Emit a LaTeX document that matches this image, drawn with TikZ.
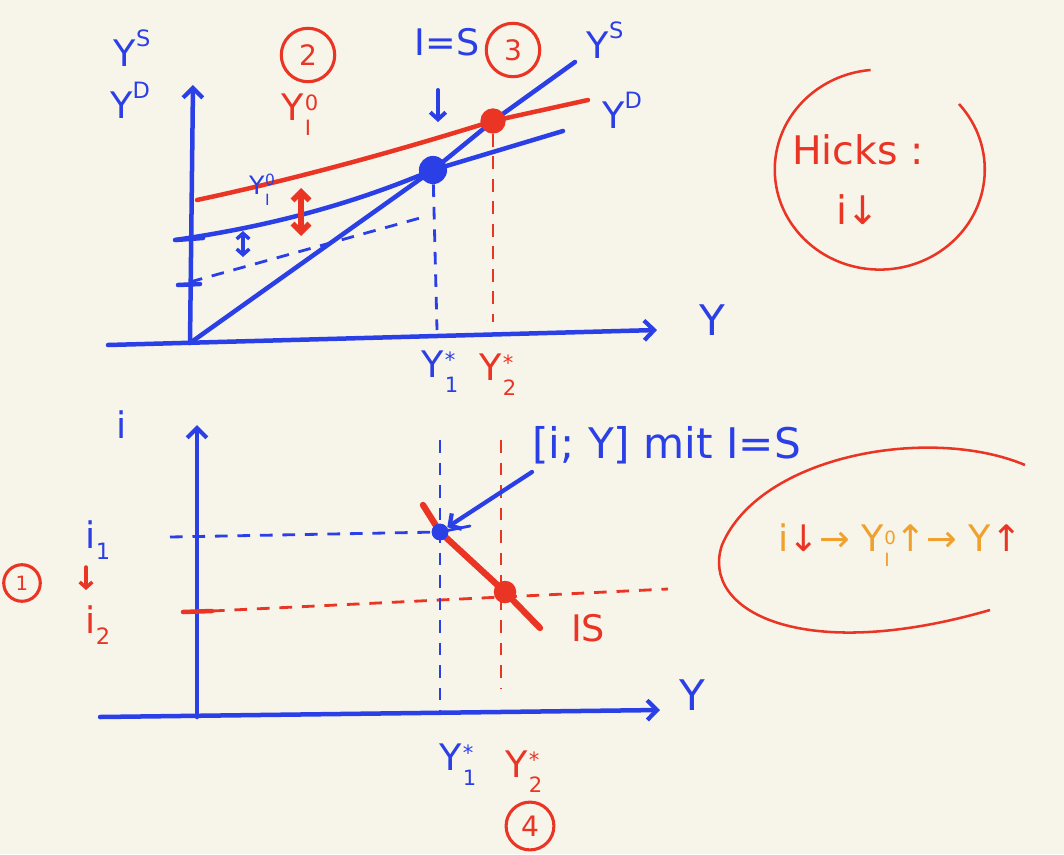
\documentclass[tikz,border=0pt]{standalone}
\usepackage{fontspec}
\setmainfont{DejaVu Sans}
\usetikzlibrary{arrows.meta,calc}
\definecolor{bg}{HTML}{F7F4EA}
\definecolor{pblue}{HTML}{2B3FE6}
\definecolor{pred}{HTML}{EA3424}
\definecolor{porange}{HTML}{F0A02C}
\newcommand\SupSub[3]{#1\raisebox{0.55em}{\fontsize{#3}{#3}\selectfont #2}}
\newcommand\SubOnly[3]{#1\raisebox{-0.3em}{\fontsize{#3}{#3}\selectfont #2}}
\newcommand\SubSup[4]{#1\kern0.5pt\raisebox{-0.42em}{\fontsize{#4}{#4}\selectfont\begin{tabular}[b]{@{}l@{}}#2\\[2.5pt]#3\end{tabular}}}
\begin{document}
\begin{tikzpicture}[x=0.025cm,y=-0.025cm,
  bl/.style={pblue,line width=3.2pt,line cap=round},
  rd/.style={pred,line width=3.2pt,line cap=round},
  bld/.style={pblue,line width=2pt,dash pattern=on 9pt off 7pt},
  rdd/.style={pred,line width=2pt,dash pattern=on 9pt off 7pt},
  axarrow/.style={-{Straight Barb[length=7pt,width=14pt,line width=3pt]}},
  lab/.style={inner sep=0pt,font=\fontsize{26}{28}\selectfont},
  slab/.style={inner sep=0pt,font=\fontsize{18}{20}\selectfont},
  circ/.style={draw,circle,line width=2.2pt,inner sep=1pt,minimum size=38pt,font=\fontsize{20}{22}\selectfont},
  dot/.style={circle,fill,inner sep=0pt,minimum size=#1}]
\fill[bg] (0,0) rectangle (1064,854);
\useasboundingbox (0,0) rectangle (1064,854);
% ---------- top graph ----------
\coordinate (o1) at (190,343);
\coordinate (ytop) at (193,85);
\coordinate (xl) at (108,345);
\coordinate (xr) at (657,330);
\draw[bl,axarrow] (o1) -- (ytop);
\draw[bl,axarrow] (xl) -- (xr);
\node[lab,pblue,font=\fontsize{30}{32}\selectfont] (Yax1) at (712,320) {Y};
\node[lab,pblue] (YSl) at (132,48) {\SupSub{Y}{S}{16}};
\node[lab,pblue] (YDl) at (130,100) {\SupSub{Y}{D}{16}};
% curves
\coordinate (e1) at (433,170);
\coordinate (e2) at (493,121);
\coordinate (ysend) at (575,62);
\coordinate (yd0s) at (175,240);
\coordinate (yd0e) at (563,131);
\coordinate (yd1s) at (197,200);
\coordinate (yd1e) at (588,100);
\draw[bl] (o1) -- (e1) -- (e2) -- (ysend);
\draw[bl] (yd0s) .. controls (300,222) and (380,192) .. (e1) -- (yd0e);
\draw[rd] (yd1s) .. controls (300,178) and (400,150) .. (e2) -- (yd1e);
\node[dot=20pt,pblue] (d1) at (e1) {};
\node[dot=18pt,pred] (d2) at (e2) {};
\node[lab,pblue] (YSr) at (605,40) {\SupSub{Y}{S}{16}};
\node[lab,pblue] (YDr) at (622,110) {\SupSub{Y}{D}{16}};
% dashed
\coordinate (t1) at (190,282);
\coordinate (t1e) at (420,218);
\draw[bld] (t1) -- (t1e);
\coordinate (v1b) at (437,330);
\coordinate (v2b) at (493,322);
\draw[bld] (d1) -- (v1b);
\draw[rdd] (d2) -- (v2b);
% ticks
\coordinate (tk1a) at (176,240); \coordinate (tk1b) at (203,238);
\coordinate (tk2a) at (178,285); \coordinate (tk2b) at (200,284);
\draw[bl] (tk1a) -- (tk1b);
\draw[bl] (tk2a) -- (tk2b);
% double arrows
\coordinate (ra) at (301,188); \coordinate (rb) at (301,236);
\draw[rd,line width=4pt,{Straight Barb[length=6pt,width=12pt]}-{Straight Barb[length=6pt,width=12pt]}] (ra) -- (rb);
\coordinate (ba) at (243,231); \coordinate (bb) at (243,257);
\draw[bl,line width=2.5pt,{Straight Barb[length=4pt,width=9pt]}-{Straight Barb[length=4pt,width=9pt]}] (ba) -- (bb);
% labels
\node[slab,pblue] (YI0b) at (262,192) {\SubSup{Y}{0}{I}{11}};
\node[lab,pred] (YI0r) at (300,118) {\SubSup{Y}{0}{I}{15}};
\node[circ,pred] (c2) at (308,55) {2};
\node[lab,pblue] (IS1) at (447,42) {I=S};
\coordinate (a1s) at (438,90); \coordinate (a1e) at (438,122);
\draw[bl,line width=2.8pt,-{Straight Barb[length=5pt,width=11pt]}] (a1s) -- (a1e);
\node[circ,pred] (c3) at (513,50) {3};
\node[lab,pblue] (Y1s) at (440,375) {\SubSup{Y}{*}{1}{15}};
\node[lab,pred] (Y2s) at (498,378) {\SubSup{Y}{*}{2}{15}};
% Hicks circle
\draw[pred,line width=1.8pt] (959,104) arc[start angle=-41,end angle=265,x radius=105,y radius=100];
\node[lab,pred,font=\fontsize{28}{30}\selectfont] (hicks) at (858,150) {Hicks :};
\node[lab,pred,font=\fontsize{28}{30}\selectfont] (hi) at (858,210) {i↓};
% ---------- bottom graph ----------
\coordinate (o2) at (197,717);
\coordinate (itop) at (197,425);
\coordinate (x2l) at (100,717);
\coordinate (x2r) at (660,710);
\draw[bl,axarrow] (o2) -- (itop);
\draw[bl,axarrow] (x2l) -- (x2r);
\node[lab,pblue,font=\fontsize{30}{32}\selectfont] (Yax2) at (692,695) {Y};
\node[lab,pblue] (ilab) at (122,425) {i};
\node[lab,pblue] (i1) at (98,540) {\SubOnly{i}{1}{16}};
\node[lab,pred] (i2) at (98,625) {\SubOnly{i}{2}{16}};
\node[circ,pred,minimum size=26pt,font=\fontsize{14}{16}\selectfont] (c1) at (22,583) {1};
\coordinate (ia) at (86,567); \coordinate (ib) at (86,590);
\draw[rd,line width=2.5pt,-{Straight Barb[length=4pt,width=9pt]}] (ia) -- (ib);
\coordinate (tk3a) at (183,612); \coordinate (tk3b) at (212,611);
\draw[rd] (tk3a) -- (tk3b);
% points
\coordinate (p1) at (440,532);
\coordinate (p2) at (505,592);
\coordinate (is1) at (423,505);
\coordinate (is2) at (540,628);
\draw[rd,line width=4.5pt] (is1) -- (p1) -- (p2) -- (is2);
\coordinate (hd1) at (170,537);
\coordinate (hd2) at (212,611);
\coordinate (hd2e) at (668,589);
\draw[bld] (hd1) -- (p1);
\draw[rdd] (hd2) -- (hd2e);
\coordinate (vb1t) at (440,440); \coordinate (vb1b) at (440,712);
\coordinate (vb2t) at (501,440); \coordinate (vb2b) at (501,688);
\draw[bld] (vb1t) -- (vb1b);
\draw[rdd] (vb2t) -- (vb2b);
\node[dot=12pt,pblue] (dp1) at (p1) {};
\coordinate (tk4) at (470,526);
\draw[pblue,line width=2pt,line cap=round] (p1) -- (tk4);
\node[dot=16pt,pred] (dp2) at (p2) {};
\node[lab,pred] (ISl) at (588,628) {IS};
\node[lab,pblue,anchor=west,font=\fontsize{30}{32}\selectfont] (note) at (532,445) {[i; Y] mit I=S};
\coordinate (na) at (532,472);
\draw[pblue,line width=3pt,line cap=round,-{Straight Barb[length=6pt,width=13pt]}] (na) -- (dp1);
\node[lab,pblue] (Y1b) at (458,768) {\SubSup{Y}{*}{1}{15}};
\node[lab,pred] (Y2b) at (524,775) {\SubSup{Y}{*}{2}{15}};
\node[circ,pred,minimum size=34pt] (c4) at (530,826) {4};
% right ellipse
\draw[pred,line width=1.8pt] (1025,465) .. controls (930,425) and (760,455) .. (722,545)
  .. controls (700,610) and (800,665) .. (990,610);
\node[lab,porange,font=\fontsize{26}{28}\selectfont] (chain) at (900,548)
  {i\textcolor{pred}{↓}→ \SubSup{Y}{0}{I}{13}↑→ Y\textcolor{pred}{↑}};
\end{tikzpicture}
\end{document}
